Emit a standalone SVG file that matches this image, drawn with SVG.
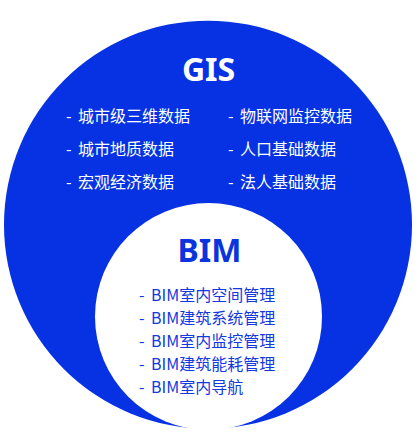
<svg xmlns="http://www.w3.org/2000/svg" width="419" height="445" viewBox="0 0 419 445">
<style>
.t{font-family:"Noto Sans CJK SC","Noto Sans",sans-serif;font-size:16px}
.w{fill:#ffffff}
.b{fill:#1238df}
.h{font-family:"Noto Sans","Noto Sans CJK SC",sans-serif;font-weight:bold;font-size:32px;text-anchor:middle}
</style>
<rect width="419" height="445" fill="#ffffff"/>
<g id="gis">
<circle cx="208" cy="224.7" r="204" fill="#0632e3"/>
<text class="h w" x="208.5" y="81">GIS</text>
<text class="t w" y="121.5"><tspan x="66">-</tspan><tspan x="78">城市级三维数据</tspan></text>
<text class="t w" y="155"><tspan x="66">-</tspan><tspan x="78">城市地质数据</tspan></text>
<text class="t w" y="187.5"><tspan x="66">-</tspan><tspan x="78">宏观经济数据</tspan></text>
<text class="t w" y="121.5"><tspan x="228">-</tspan><tspan x="240">物联网监控数据</tspan></text>
<text class="t w" y="155"><tspan x="228">-</tspan><tspan x="240">人口基础数据</tspan></text>
<text class="t w" y="187.5"><tspan x="228">-</tspan><tspan x="240">法人基础数据</tspan></text>
</g>
<g id="bim">
<circle cx="208.5" cy="316.5" r="113.5" fill="#ffffff"/>
<text class="h" x="209.5" y="262" fill="#0a34dd">BIM</text>
<text class="t b" y="301"><tspan x="139">-</tspan><tspan x="151">BIM室内空间管理</tspan></text>
<text class="t b" y="324"><tspan x="139">-</tspan><tspan x="151">BIM建筑系统管理</tspan></text>
<text class="t b" y="347"><tspan x="139">-</tspan><tspan x="151">BIM室内监控管理</tspan></text>
<text class="t b" y="370"><tspan x="139">-</tspan><tspan x="151">BIM建筑能耗管理</tspan></text>
<text class="t b" y="393"><tspan x="139">-</tspan><tspan x="151">BIM室内导航</tspan></text>
</g>
</svg>
